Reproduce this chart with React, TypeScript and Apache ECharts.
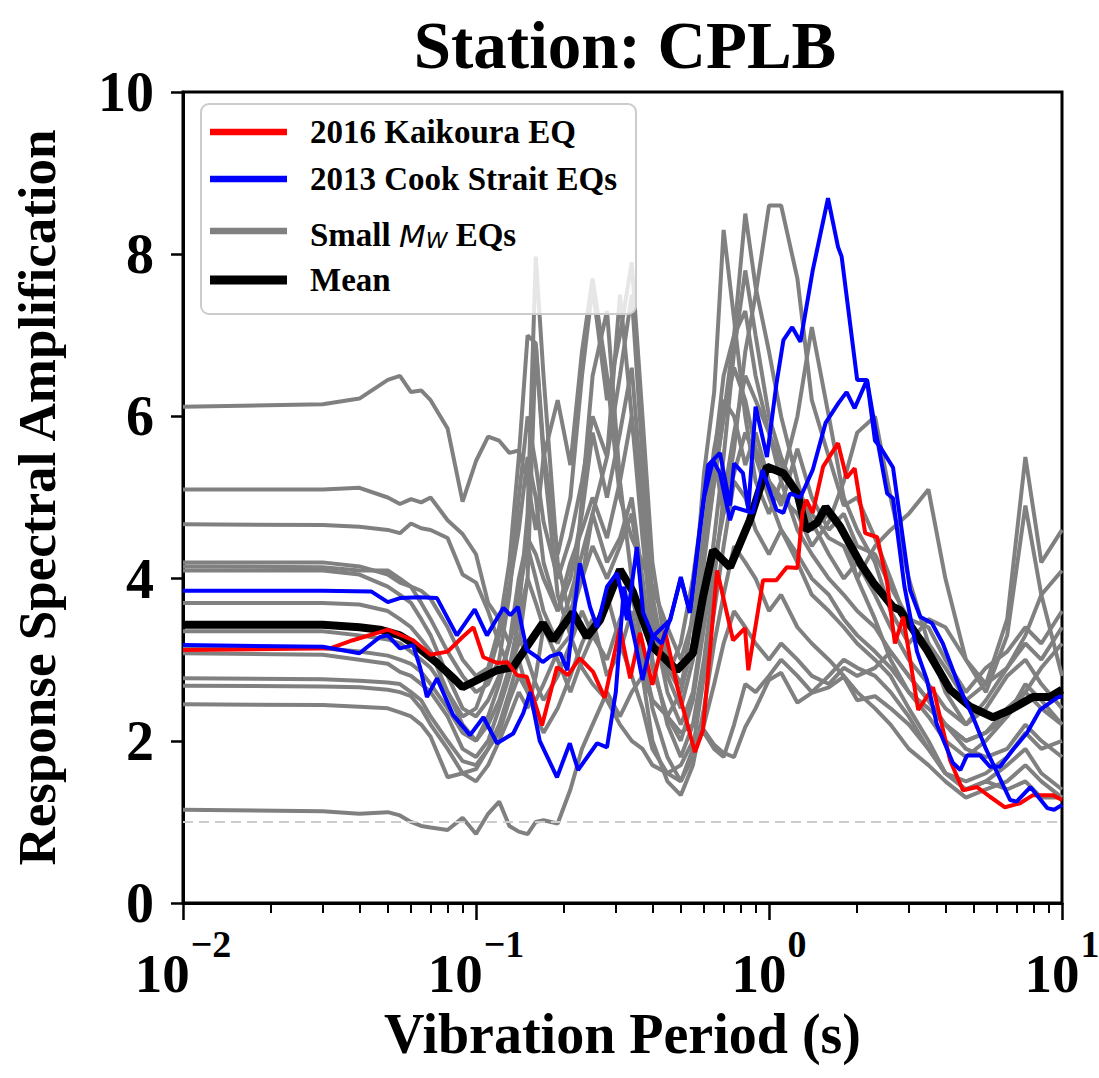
import React, { useEffect, useRef } from "react";
import * as echarts from "echarts";

const FONT = '"Liberation Serif", "Times New Roman", Times, serif';

// Shared period grid for the small-magnitude earthquake curves (s)
const grayPeriods = [
  0.01, 0.03, 0.04, 0.05, 0.055, 0.06, 0.065, 0.07, 0.08, 0.09,
  0.1, 0.11, 0.12, 0.13, 0.14, 0.15, 0.16, 0.17, 0.19, 0.21,
  0.23, 0.25, 0.28, 0.31, 0.34, 0.37, 0.4, 0.45, 0.5, 0.55,
  0.6, 0.65, 0.7, 0.76, 0.83, 0.9, 1.0, 1.1, 1.25, 1.4,
  1.6, 1.8, 2.0, 2.3, 2.6, 3.0, 3.5, 4.0, 4.7, 5.5,
  6.5, 7.5, 8.5, 10,
];

const smallEq01 = [
  6.12, 6.15, 6.22, 6.45, 6.5, 6.3, 6.32, 6.2, 5.85, 4.95,
  5.45, 5.75, 5.7, 5.55, 5.58, 5.2, 4.6, 5.5, 6.2, 5.4,
  6.8, 7.7, 6.5, 5.0, 4.5, 4.2, 3.9, 3.4, 3.0, 3.5,
  4.6, 5.6, 6.2, 6.0, 5.4, 5.8, 5.2, 4.9, 5.6, 5.0,
  4.6, 4.8, 4.4, 4.3, 3.9, 3.5, 3.4, 3.0, 2.6, 2.9,
  3.1, 3.4, 3.2, 3.6,
];
const smallEq02 = [
  5.1, 5.1, 5.12, 5.0, 4.92, 4.98, 4.94, 5.0, 4.72, 4.55,
  4.3, 3.7, 3.5, 3.2, 3.6, 4.8, 7.97, 6.5, 4.2, 3.5,
  4.0, 4.8, 5.5, 7.5, 6.0, 4.5, 3.3, 2.8, 3.2, 4.0,
  5.0, 5.5, 4.8, 5.6, 6.8, 7.5, 8.6, 8.6, 7.7, 6.2,
  5.5, 4.9, 5.0, 4.5, 4.0, 3.4, 3.2, 2.9, 2.5, 2.7,
  2.9, 3.3, 3.8, 4.1,
];
const smallEq03 = [
  4.67, 4.66, 4.64, 4.6, 4.56, 4.68, 4.62, 4.6, 4.5, 4.05,
  3.95, 3.6, 3.2, 2.9, 3.2, 4.0, 6.88, 5.5, 3.8, 3.3,
  5.0, 6.5, 7.3, 5.2, 4.0, 3.0, 2.5, 2.3, 2.6, 3.6,
  5.3, 6.3, 8.3, 7.2, 6.0, 5.2, 4.8, 5.2, 6.0, 7.1,
  6.0, 5.0, 4.6, 4.2, 3.6, 3.2, 3.5, 3.4, 3.0, 2.6,
  3.3, 4.9, 3.8, 2.8,
];
const smallEq04 = [
  4.2, 4.2, 4.15, 4.05, 3.95, 3.9, 3.85, 3.75, 3.4, 3.0,
  2.8, 2.9, 3.4, 4.2, 5.5, 7.0, 6.9, 5.6, 4.3, 5.0,
  6.5, 7.6, 6.2, 7.0, 7.9, 6.0, 4.2, 3.0, 2.7, 3.2,
  4.5, 5.5, 6.5, 7.0, 8.5, 7.6, 6.8, 6.0, 5.2, 4.6,
  4.8, 4.6, 4.0, 4.4, 4.6, 4.8, 5.1, 4.0, 3.0, 2.7,
  3.5, 5.5, 4.2, 4.6,
];
const smallEq05 = [
  4.15, 4.14, 4.1, 4.1, 4.0, 3.9, 3.7, 3.5, 3.1, 2.8,
  2.6, 2.7, 3.0, 3.8, 5.0, 6.0, 5.4, 4.7, 4.0, 4.5,
  5.2, 6.0, 5.5, 6.5, 7.5, 5.5, 3.8, 2.8, 2.4, 3.0,
  4.2, 5.2, 6.0, 6.6, 6.2, 5.6, 5.2, 5.0, 4.8, 4.4,
  4.7, 5.2, 5.8, 6.0, 5.0, 4.0, 3.2, 2.6, 2.2, 2.4,
  2.8, 3.0, 2.7, 2.4,
];
const smallEq06 = [
  4.1, 4.1, 4.05, 3.9, 3.8, 3.7, 3.5, 3.3, 2.8, 2.4,
  2.3, 2.5, 2.8, 3.2, 4.0, 4.5, 4.3, 4.0, 3.6, 4.2,
  4.6, 5.0, 4.5, 5.2, 6.0, 4.8, 3.5, 2.6, 2.2, 2.6,
  3.5, 4.5, 5.5, 6.8, 7.8, 7.0, 6.0, 5.5, 5.0, 4.8,
  4.5, 4.4, 4.0, 3.5, 3.0, 2.6, 2.4, 2.2, 2.0, 2.1,
  2.4, 2.6, 2.9, 3.2,
];
const smallEq07 = [
  3.7, 3.7, 3.68, 3.6, 3.5, 3.4, 3.25, 3.1, 2.6, 2.2,
  2.0, 2.2, 2.5, 2.9, 3.5, 4.0, 3.7, 3.4, 3.3, 3.8,
  4.3, 4.8, 4.2, 4.5, 5.0, 4.0, 3.0, 2.2, 1.8, 2.2,
  3.0, 4.0, 5.0, 5.8, 6.5, 6.2, 5.8, 5.2, 4.6, 4.3,
  4.0, 3.8, 3.6, 3.4, 3.1, 2.8, 2.5, 2.2, 1.9, 1.8,
  1.9, 2.2, 2.0, 1.8,
];
const smallEq08 = [
  3.08, 3.06, 3.0, 2.95, 2.85, 2.8, 2.7, 2.6, 2.3, 1.9,
  1.8, 2.0, 2.4, 2.8, 3.3, 3.0, 2.7, 2.5, 2.8, 3.2,
  3.6, 3.3, 3.0, 3.5, 3.8, 3.2, 2.4, 1.8, 1.5, 1.9,
  2.8, 3.6, 4.4, 5.2, 5.0, 4.6, 4.3, 4.6, 4.2, 3.8,
  3.6, 3.4, 3.2, 3.0, 2.8, 2.4, 2.0, 1.6, 1.4, 1.5,
  1.7, 1.9, 1.6, 1.4,
];
const smallEq09 = [
  2.77, 2.76, 2.74, 2.72, 2.7, 2.6, 2.5, 2.3, 2.0, 1.75,
  1.7, 1.9, 2.2, 2.6, 3.0, 2.6, 2.3, 2.1, 2.4, 2.8,
  3.2, 3.5, 2.8, 3.1, 3.6, 2.8, 2.0, 1.5, 1.33, 1.7,
  2.4, 3.2, 3.8, 4.4, 4.2, 4.0, 3.6, 3.8, 3.4, 3.2,
  3.0, 2.8, 2.6, 2.4, 2.2, 1.9, 1.7, 1.5, 1.3, 1.4,
  1.5, 1.7, 1.5, 1.3,
];
const smallEq10 = [
  2.68, 2.67, 2.66, 2.63, 2.6, 2.55, 2.4, 2.2, 1.9, 1.6,
  1.5, 1.7, 2.0, 2.3, 2.6, 2.4, 2.8, 3.4, 3.0, 2.6,
  3.0, 3.3, 3.8, 3.2, 2.8, 2.4, 1.9, 1.6, 1.5, 1.8,
  2.2, 2.7, 3.2, 3.6, 3.4, 3.2, 3.0, 3.2, 3.0, 2.8,
  2.7, 2.9, 2.8, 2.9, 3.1, 2.8, 2.5, 2.2, 2.0, 2.1,
  2.3, 2.7, 2.5, 2.2,
];
const smallEq11 = [
  2.45, 2.44, 2.42, 2.4, 2.35, 2.3, 2.2, 2.05, 1.55, 1.6,
  1.65, 1.9, 2.1, 2.5, 2.8, 2.6, 2.5, 2.7, 3.1, 3.3,
  2.9, 2.7, 2.5, 2.2, 2.0, 1.9, 1.7, 1.6, 1.7, 2.0,
  2.1, 1.9, 1.8, 2.2, 2.7, 2.6, 2.8, 3.0, 2.8, 2.6,
  2.8, 3.0, 2.9, 2.8, 2.6, 2.3, 1.9, 1.6, 1.5, 1.6,
  1.8, 2.1, 1.9, 2.0,
];
const smallEq12 = [
  1.15, 1.13, 1.1, 1.12, 1.08, 1.0, 0.95, 0.93, 0.9, 1.05,
  0.85, 1.1, 1.25, 0.95, 0.88, 0.85, 1.0, 1.02, 0.98, 1.4,
  1.9, 2.2, 2.6, 2.3, 2.6, 2.8, 2.5, 2.3, 2.1, 2.2,
  2.13, 1.95, 1.85, 1.8, 2.17, 2.4, 2.75, 2.84, 2.47, 2.59,
  2.66, 2.79, 2.5, 2.55, 2.4, 2.2, 1.9, 1.6, 1.4, 1.5,
  1.4, 1.5, 1.3, 1.3,
];
const smallEq13 = [
  3.35, 3.35, 3.3, 3.25, 3.2, 3.1, 3.0, 2.9, 2.6, 2.3,
  2.4, 2.8, 3.3, 3.9, 4.6, 5.5, 5.0, 4.2, 3.6, 4.0,
  4.8, 5.8, 5.0, 5.8, 6.6, 5.0, 3.6, 2.9, 2.6, 3.2,
  4.3, 5.2, 6.0, 7.0, 7.3, 6.5, 5.8, 5.4, 5.1, 4.7,
  4.3, 4.0, 4.2, 3.8, 3.4, 3.0, 2.7, 2.4, 2.2, 2.5,
  2.9, 3.2, 3.0, 3.4,
];
const smallEq14 = [
  3.15, 3.14, 3.1, 3.05, 3.0, 2.95, 2.85, 2.7, 2.4, 2.1,
  2.0, 2.3, 2.7, 3.2, 3.8, 4.4, 4.0, 3.6, 3.2, 3.6,
  4.0, 4.4, 4.0, 4.4, 4.8, 3.8, 2.9, 2.3, 2.0, 2.5,
  3.4, 4.2, 4.8, 5.3, 5.8, 5.5, 5.0, 4.6, 4.3, 4.0,
  3.8, 3.5, 3.3, 3.1, 2.9, 2.6, 2.3, 2.0, 1.8, 2.0,
  2.3, 2.6, 2.4, 2.2,
];
const smallEqCurves = [
  smallEq01, smallEq02, smallEq03, smallEq04, smallEq05, smallEq06, smallEq07,
  smallEq08, smallEq09, smallEq10, smallEq11, smallEq12, smallEq13, smallEq14,
];

// 2016 Kaikoura EQ
const kaikouraPeriods = [
  0.01, 0.0318, 0.038, 0.047, 0.05, 0.061, 0.07, 0.08, 0.09, 0.098,
  0.106, 0.118, 0.128, 0.138, 0.149, 0.168, 0.189, 0.206, 0.226, 0.251,
  0.275, 0.31, 0.336, 0.363, 0.4, 0.442, 0.489, 0.559, 0.595, 0.665,
  0.754, 0.828, 0.85, 0.954, 1.06, 1.15, 1.25, 1.3, 1.34, 1.41,
  1.53, 1.72, 1.84, 1.96, 2.13, 2.34, 2.53, 2.69, 2.87, 3.23,
  3.63, 4.15, 4.59, 5.13, 5.68, 6.39, 7.19, 7.96, 9.31, 10,
];
const kaikouraAmp = [
  3.12, 3.14, 3.24, 3.34, 3.37, 3.24, 3.06, 3.1, 3.28, 3.4,
  3.03, 2.96, 2.97, 2.81, 2.79, 2.19, 2.91, 2.81, 3.02, 2.85,
  2.53, 3.39, 2.77, 3.33, 2.69, 3.35, 2.63, 1.86, 2.13, 4.1,
  3.24, 3.39, 2.87, 3.98, 3.98, 4.14, 4.13, 4.81, 4.97, 4.81,
  5.38, 5.67, 5.24, 5.36, 4.56, 4.51, 3.95, 3.2, 3.53, 2.38,
  2.66, 1.76, 1.39, 1.43, 1.31, 1.18, 1.23, 1.33, 1.33, 1.27,
];

// 2013 Cook Strait EQs (two events)
const cookStraitAPeriods = [
  0.01, 0.03, 0.044, 0.05, 0.055, 0.064, 0.0736, 0.086, 0.099, 0.109,
  0.124, 0.131, 0.139, 0.149, 0.162, 0.169, 0.179, 0.194, 0.205, 0.226,
  0.245, 0.259, 0.28, 0.303, 0.328, 0.354, 0.372, 0.4, 0.43, 0.46,
  0.5, 0.537, 0.58, 0.62, 0.68, 0.736, 0.76, 0.815, 0.85, 0.9,
  0.984, 1.06, 1.12, 1.2, 1.28, 1.41, 1.59, 1.72, 1.77, 2.0,
  2.16, 2.3, 2.53, 2.65, 2.9, 3.2, 3.46, 3.74, 4.24, 4.5,
  4.74, 5.25, 5.68, 6.14, 6.8, 7.6, 8.41, 9.6, 10,
];
const cookStraitAAmp = [
  3.85, 3.85, 3.84, 3.71, 3.76, 3.77, 3.76, 3.3, 3.62, 3.3,
  3.64, 3.55, 3.65, 3.12, 3.03, 2.97, 3.04, 3.08, 2.87, 4.19,
  3.65, 3.4, 3.9, 4.07, 3.49, 4.39, 3.58, 3.3, 3.2, 3.5,
  4.0, 3.58, 4.6, 5.4, 5.55, 4.9, 5.42, 5.3, 4.85, 6.12,
  5.5, 6.4, 6.94, 7.1, 6.92, 7.8, 8.69, 8.09, 7.97, 6.45,
  6.45, 5.87, 5.05, 4.99, 3.9, 3.1, 2.75, 2.2, 1.73, 1.64,
  1.82, 1.82, 1.68, 1.68, 1.89, 2.1, 2.38, 2.53, 2.55,
];
const cookStraitBPeriods = [
  0.01, 0.03, 0.04, 0.047, 0.05, 0.055, 0.061, 0.0644, 0.068, 0.0736,
  0.0835, 0.0954, 0.106, 0.118, 0.134, 0.145, 0.153, 0.165, 0.189, 0.209,
  0.223, 0.259, 0.28, 0.3, 0.32, 0.336, 0.35, 0.37, 0.4, 0.46,
  0.5, 0.537, 0.6, 0.644, 0.68, 0.736, 0.76, 0.88, 0.95, 1.06,
  1.12, 1.18, 1.28, 1.41, 1.56, 1.73, 1.84, 1.96, 2.16, 2.3,
  2.4, 2.65, 3.03, 3.28, 3.6, 3.92, 4.5, 4.97, 5.5, 6.65,
  7.0, 7.8, 8.9, 9.4, 10,
];
const cookStraitBAmp = [
  3.18, 3.16, 3.08, 3.28, 3.3, 3.14, 3.18, 2.91, 2.54, 2.77,
  2.32, 2.07, 2.29, 1.97, 2.09, 2.34, 2.6, 2.0, 1.55, 1.97,
  1.64, 1.97, 1.92, 2.6, 3.9, 3.5, 3.2, 2.75, 3.28, 3.49,
  4.02, 3.58, 5.0, 5.46, 5.3, 4.72, 4.88, 4.81, 5.34, 4.85,
  4.81, 5.05, 5.0, 5.34, 5.92, 6.17, 6.3, 6.1, 6.45, 5.7,
  5.62, 5.37, 3.86, 3.53, 3.45, 3.2, 2.63, 2.29, 1.9, 1.27,
  1.25, 1.43, 1.17, 1.15, 1.21,
];

// Mean amplification
const meanPeriods = [
  0.01, 0.03, 0.04, 0.047, 0.055, 0.061, 0.0736, 0.085, 0.09, 0.101,
  0.118, 0.134, 0.149, 0.169, 0.183, 0.214, 0.239, 0.265, 0.31, 0.343,
  0.4, 0.485, 0.55, 0.595, 0.644, 0.736, 0.86, 0.984, 1.12, 1.25,
  1.34, 1.46, 1.56, 1.75, 2.05, 2.27, 2.65, 2.8, 3.46, 4.15,
  4.86, 5.82, 6.65, 7.96, 9.1, 10,
];
const meanAmp = [
  3.43, 3.43, 3.4, 3.37, 3.3, 3.2, 2.96, 2.75, 2.66, 2.75,
  2.87, 2.91, 3.16, 3.45, 3.24, 3.58, 3.28, 3.49, 4.11, 3.84,
  3.16, 2.87, 3.08, 3.77, 4.35, 4.14, 4.72, 5.38, 5.3, 5.05,
  4.6, 4.69, 4.88, 4.64, 4.19, 3.95, 3.65, 3.61, 3.12, 2.63,
  2.42, 2.29, 2.38, 2.54, 2.54, 2.63,
];

const referenceLevel = 1.0;
const minorTickPeriods = [
  0.02, 0.03, 0.04, 0.05, 0.06, 0.07, 0.08, 0.09,
  0.2, 0.3, 0.4, 0.5, 0.6, 0.7, 0.8, 0.9,
  2, 3, 4, 5, 6, 7, 8, 9,
];
const legendLabels = ["2016 Kaikoura EQ", "2013 Cook Strait EQs", "Small M_W EQs", "Mean"];

const pairs = (xs: number[], ys: number[]) => xs.map((x, i) => [x, ys[i]]);

export default function App() {
  const ref = useRef<HTMLDivElement>(null);

  useEffect(() => {
    if (!ref.current) return;
    const chart = echarts.init(ref.current, null, { renderer: "svg" });

    const lineBase = {
      type: "line",
      showSymbol: false,
      symbol: "none",
      silent: true,
      animation: false,
      clip: true,
      emphasis: { disabled: true },
    };

    const graySeries = smallEqCurves.map((vals, i) => ({
      ...lineBase,
      name: "Small Mw EQs",
      data: pairs(grayPeriods, vals),
      lineStyle: { color: "#808080", width: 4 },
      itemStyle: { color: "#808080" },
      z: 2,
      ...(i === 0
        ? {
            markLine: {
              silent: true,
              symbol: ["none", "none"],
              label: { show: false },
              lineStyle: { color: "#cccccc", type: [10, 6], width: 2 },
              data: [{ yAxis: referenceLevel }],
              animation: false,
            },
          }
        : {}),
    }));

    const tickFont = { fontFamily: FONT, fontWeight: "bold", color: "#000" };

    const legendRows = [
      { y: 132, color: "#ff0000", width: 6.5 },
      { y: 179, color: "#0000ff", width: 6.5 },
      { y: 231, color: "#808080", width: 6.5 },
      { y: 280, color: "#000000", width: 9 },
    ];

    const legendGraphics: any[] = [
      {
        type: "rect",
        z: 100,
        shape: { x: 201, y: 104, width: 435, height: 210, r: 8 },
        style: { fill: "rgba(255,255,255,0.8)", stroke: "#cccccc", lineWidth: 2 },
      },
    ];
    legendRows.forEach((row, i) => {
      legendGraphics.push({
        type: "line",
        z: 101,
        shape: { x1: 210, y1: row.y, x2: 287, y2: row.y },
        style: { stroke: row.color, lineWidth: row.width },
      });
      const label = legendLabels[i];
      if (label.includes("M_W")) {
        legendGraphics.push({
          type: "text",
          z: 101,
          x: 310,
          y: row.y,
          style: {
            text: "{b|Small }{m|M}{w|W}{b| EQs}",
            verticalAlign: "middle",
            textVerticalAlign: "middle",
            rich: {
              b: { fontFamily: FONT, fontWeight: "bold", fontSize: 33, fill: "#000", lineHeight: 40, verticalAlign: "bottom" },
              m: { fontFamily: '"DejaVu Sans"', fontStyle: "italic", fontSize: 31, fill: "#000", lineHeight: 40, verticalAlign: "bottom" },
              w: { fontFamily: '"DejaVu Sans"', fontStyle: "italic", fontSize: 22, fill: "#000", lineHeight: 32, verticalAlign: "bottom" },
            },
          },
        });
      } else {
        legendGraphics.push({
          type: "text",
          z: 101,
          x: 310,
          y: row.y,
          style: {
            text: label,
            fill: "#000",
            font: `bold 33px ${FONT}`,
            verticalAlign: "middle",
            textVerticalAlign: "middle",
          },
        });
      }
    });

    chart.setOption({
      animation: false,
      backgroundColor: "#ffffff",
      title: {
        text: "Station: CPLB",
        left: 620,
        top: 6,
        textAlign: "center",
        textStyle: { fontFamily: FONT, fontWeight: "bold", fontSize: 67, color: "#000" },
      },
      grid: {
        left: 183,
        right: 37,
        top: 92,
        bottom: 175,
        show: true,
        containLabel: false,
        outerBoundsMode: "none",
        borderColor: "#000",
        borderWidth: 3,
        backgroundColor: "transparent",
      },
      xAxis: [
        {
          type: "log",
          logBase: 10,
          min: 0.01,
          max: 10,
          position: "bottom",
          axisLine: { show: true, onZero: false, lineStyle: { color: "#000", width: 3 } },
          axisTick: { show: true, length: 17, lineStyle: { color: "#000", width: 2.5 } },
          splitLine: { show: false },
          minorTick: { show: false },
          axisLabel: {
            margin: 16,
            formatter: (v: number) => {
              const e = Math.round(Math.log10(v));
              const s = e < 0 ? "\u2212" + Math.abs(e) : String(e);
              return `{b|10}{s|${s}}`;
            },
            rich: {
              b: { ...tickFont, fontSize: 55, lineHeight: 82, verticalAlign: "bottom" },
              s: { ...tickFont, fontSize: 38, lineHeight: 30, verticalAlign: "top", padding: [6, 0, 0, 1] },
            },
          },
          name: "Vibration Period (s)",
          nameLocation: "middle",
          nameGap: 94,
          nameTextStyle: { ...tickFont, fontSize: 56 },
        },
        {
          type: "value",
          min: -2,
          max: 1,
          position: "bottom",
          axisLine: { show: false },
          axisLabel: { show: false },
          splitLine: { show: false },
          axisTick: {
            show: true,
            length: 10,
            customValues: minorTickPeriods.map((p) => Math.log10(p)),
            lineStyle: { color: "#000", width: 2 },
          },
        },
      ],
      yAxis: {
        type: "value",
        min: 0,
        max: 10,
        interval: 2,
        axisLine: { show: true, onZero: false, lineStyle: { color: "#000", width: 3 } },
        axisTick: { show: true, length: 12, lineStyle: { color: "#000", width: 2.5 } },
        splitLine: { show: false },
        axisLabel: { ...tickFont, fontSize: 56, margin: 29 },
        name: "Response Spectral Amplification",
        nameLocation: "middle",
        nameGap: 120,
        nameTextStyle: { ...tickFont, fontSize: 53 },
      },
      series: [
        ...graySeries,
        {
          ...lineBase,
          name: "Mean",
          data: pairs(meanPeriods, meanAmp),
          lineStyle: { color: "#000000", width: 8 },
          itemStyle: { color: "#000000" },
          z: 3,
        },
        {
          ...lineBase,
          name: "2016 Kaikoura EQ",
          data: pairs(kaikouraPeriods, kaikouraAmp),
          lineStyle: { color: "#ff0000", width: 4 },
          itemStyle: { color: "#ff0000" },
          z: 4,
        },
        {
          ...lineBase,
          name: "2013 Cook Strait EQs",
          data: pairs(cookStraitAPeriods, cookStraitAAmp),
          lineStyle: { color: "#0000ff", width: 4 },
          itemStyle: { color: "#0000ff" },
          z: 5,
        },
        {
          ...lineBase,
          name: "2013 Cook Strait EQs B",
          data: pairs(cookStraitBPeriods, cookStraitBAmp),
          lineStyle: { color: "#0000ff", width: 4 },
          itemStyle: { color: "#0000ff" },
          z: 5,
        },
      ],
      graphic: { elements: legendGraphics },
    });

    return () => chart.dispose();
  }, []);

  return (
    <div
      ref={ref}
      style={{ position: "absolute", left: 0, top: 0, width: 1099, height: 1078, background: "#fff" }}
    />
  );
}
